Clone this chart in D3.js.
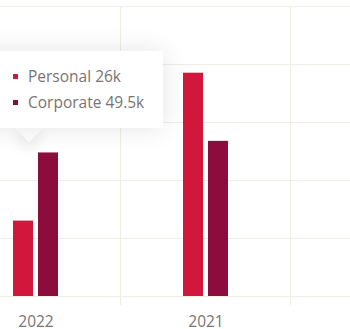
<!DOCTYPE html>
<html>
<head>
<meta charset="utf-8">
<script src="https://cdn.jsdelivr.net/npm/d3@7"></script>
<style>
  html, body { margin: 0; padding: 0; background: #fff; overflow: hidden; }
  #wrap { position: relative; width: 350px; height: 329px; }
  svg { position: absolute; left: 0; top: 0; }
  .tip {
    position: absolute; background: #fff;
    box-shadow: 0 0 26px rgba(0,0,0,0.11);
    font-family: "Open Sans", sans-serif; font-size: 15.5px; color: #7a7471;
  }
  .tip .row { position: absolute; white-space: nowrap; }
  .tip .sw { position: absolute; width: 5px; height: 5px; }
  .arrow {
    position: absolute; width: 20px; height: 20px; background: #fff;
    transform: rotate(45deg);
    box-shadow: 6px 6px 14px rgba(0,0,0,0.08);
  }
  .cover { position: absolute; background: #fff; }
</style>
</head>
<body>
<div id="wrap"></div>
<script>
const categories = ["2022", "2021"];
const seriesNames = ["Personal", "Corporate"];
const personal = [26, 77];
const corporate = [49.5, 53.5];
const yTicks = [0, 20, 40, 60, 80, 100];
const colors = ["#d1173c", "#8c0d3d"];
const tipCategory = "2022";

const W = 350, H = 329;
const wrap = d3.select("#wrap");
const svg = wrap.append("svg").attr("width", W).attr("height", H);

const x = d3.scaleBand().domain(categories).range([-49.5, 290.5]).padding(0);
const x1 = d3.scaleBand().domain(seriesNames).range([0, 45]).paddingInner(0.2);
const y = d3.scaleLinear().domain([0, 100]).range([296, 6]);

const grid = "#f1ece5";
svg.append("g").selectAll("line").data(yTicks).join("line")
  .attr("x1", 0).attr("x2", W)
  .attr("y1", d => Math.round(y(d)) + 0.5).attr("y2", d => Math.round(y(d)) + 0.5)
  .attr("stroke", grid).attr("stroke-width", 1);
svg.append("g").selectAll("line").data(categories).join("line")
  .attr("x1", d => Math.floor(x(d) + x.bandwidth()) + 0.5)
  .attr("x2", d => Math.floor(x(d) + x.bandwidth()) + 0.5)
  .attr("y1", y(100)).attr("y2", y(0) + 9)
  .attr("stroke", grid).attr("stroke-width", 1);

const rows = categories.map((c, i) => ({ cat: c, vals: [personal[i], corporate[i]] }));
const g = svg.append("g").selectAll("g").data(rows).join("g")
  .attr("transform", d => `translate(${x(d.cat) + (x.bandwidth() - 45) / 2},0)`);
g.selectAll("rect").data(d => d.vals.map((v, j) => ({ v, s: seriesNames[j], j })))
  .join("rect")
  .attr("x", d => x1(d.s)).attr("width", x1.bandwidth())
  .attr("y", d => y(d.v)).attr("height", d => y(0) - y(d.v))
  .attr("fill", d => colors[d.j]);

svg.append("g").selectAll("text").data(categories).join("text")
  .attr("x", d => x(d) + x.bandwidth() / 2 + 0.5)
  .attr("y", 326.5)
  .attr("text-anchor", "middle")
  .attr("font-family", "Open Sans, sans-serif")
  .attr("font-size", 15.5)
  .attr("fill", "#7a7471")
  .text(d => d);

const ti = categories.indexOf(tipCategory);
const tipVals = [personal[ti], corporate[ti]];
const arrowX = 29;
wrap.append("div").attr("class", "arrow")
  .style("left", (arrowX - 10) + "px").style("top", (128 - 10) + "px");
const tip = wrap.append("div").attr("class", "tip")
  .style("left", "-20px").style("top", "51px")
  .style("width", "183px").style("height", "77px");
wrap.append("div").attr("class", "cover")
  .style("left", (arrowX - 15) + "px").style("top", "118px")
  .style("width", "30px").style("height", "10px");
seriesNames.forEach((s, j) => {
  tip.append("div").attr("class", "sw")
    .style("left", (20 + 13) + "px").style("top", (23 + j * 26) + "px")
    .style("background", colors[j]);
  tip.append("div").attr("class", "row")
    .style("left", (20 + 28) + "px").style("top", (14 + j * 26) + "px")
    .text(`${s} ${tipVals[j]}k`);
});
</script>
</body>
</html>
